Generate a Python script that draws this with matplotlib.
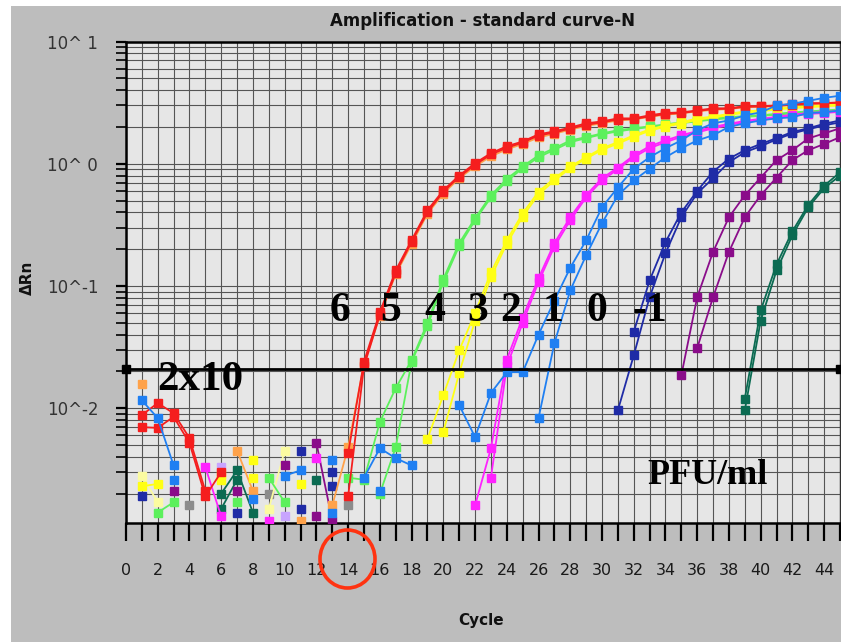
import matplotlib
matplotlib.use("Agg")
import matplotlib.pyplot as plt
from matplotlib.patches import Ellipse, Rectangle
from matplotlib.ticker import FixedLocator, FuncFormatter, LogLocator, NullFormatter

nan = float("nan")

# ---------------- data (ΔRn per cycle 1..45; nan = not plotted) ----------------
cycles = list(range(1, 46))

red_a = [0.0088, 0.011, 0.0091, 0.0057, 0.0021] + [nan] * 8 + [0.0043,
         0.024, 0.061, 0.134, 0.237, 0.416, 0.606, 0.80, 1.01, 1.22, 1.39, 1.52, 1.74, 1.84, 1.98, 2.14, 2.22,
         2.35, 2.35, 2.49, 2.60, 2.63, 2.73, 2.84, 2.84, 2.96, 2.96, 3.00, 3.07, 3.13, 3.13, 3.18]
red_b = [0.0070, 0.0069, 0.0085, 0.0052, 0.0019, 0.0030] + [nan] * 7 + [0.0019,
         0.022, 0.058, 0.128, 0.230, 0.40, 0.59, 0.78, 0.98, 1.19, 1.35, 1.49, 1.70, 1.80, 1.94, 2.08, 2.18,
         2.30, 2.32, 2.44, 2.55, 2.60, 2.70, 2.80, 2.82, 2.92, 2.94, 2.98, 3.04, 3.10, 3.12, 3.16]
orange = [0.0159, nan, nan, nan, nan, nan, 0.0045, 0.0021, nan, nan, 0.0012, nan, 0.0016, 0.0048,
          0.023, 0.057, 0.125, 0.22, 0.39, 0.57, 0.76, 0.95, 1.15, 1.31, 1.45, 1.64, 1.76, 1.90, 2.04, 2.14,
          2.26, 2.30, 2.42, 2.52, 2.58, 2.68, 2.76, 2.80, 2.90, 2.92, 2.96, 3.02, 3.06, 3.10, 3.14]
green_a = [nan, 0.0014, 0.0017, nan, nan, nan, 0.0017, nan, 0.0027, 0.0017, nan, nan, nan, 0.0027,
           0.0026, 0.0077, 0.0146, 0.0247, 0.050, 0.114, 0.224, 0.358, 0.552, 0.75, 0.95, 1.17, 1.34, 1.55,
           1.65, 1.77, 1.88, 1.95, 2.02, 2.10, 2.18, 2.26, 2.35, 2.40, 2.45, 2.49, 2.56, 2.63, 2.68, 2.73, 2.78]
green_b = [nan] * 15 + [0.0020, 0.0048, 0.0240, 0.047, 0.108, 0.212, 0.345, 0.53, 0.72, 0.92, 1.13, 1.30,
           1.50, 1.62, 1.74, 1.84, 1.92, 2.00, 2.07, 2.15, 2.22, 2.30, 2.36, 2.42, 2.46, 2.52, 2.58, 2.64,
           2.69, 2.74]
yellow_a = [0.0023, 0.0024, nan, nan, nan, 0.0026, nan, 0.0038, nan, nan, 0.0024, nan, nan, nan] + [nan] * 4 + [
            0.0056, 0.0128, 0.0297, 0.060, 0.129, 0.236, 0.393, 0.59, 0.76, 0.95, 1.13, 1.34, 1.50, 1.71,
            1.91, 2.06, 2.18, 2.35, 2.43, 2.56, 2.68, 2.73, 2.84, 2.90, 2.95, 3.00, 3.05]
yellow_b = [nan] * 5 + [0.0029, nan, 0.0027] + [nan] * 11 + [
            0.0064, 0.0194, 0.052, 0.118, 0.222, 0.37, 0.56, 0.73, 0.92, 1.10, 1.30, 1.46, 1.66, 1.86,
            2.01, 2.13, 2.29, 2.38, 2.50, 2.62, 2.68, 2.78, 2.85, 2.90, 2.95, 3.00]
magenta_a = [nan, nan, nan, nan, 0.0033, 0.0013, nan, nan, 0.0012, nan, nan, 0.0039, nan, nan] + [nan] * 7 + [
             0.0016, 0.0047, 0.025, 0.055, 0.116, 0.224, 0.365, 0.552, 0.76, 0.93, 1.17, 1.39, 1.55, 1.71,
             1.85, 2.00, 2.12, 2.24, 2.33, 2.42, 2.52, 2.60, 2.65, 2.70]
magenta_b = [nan] * 22 + [0.0027, 0.022, 0.050, 0.108, 0.21, 0.345, 0.53, 0.73, 0.90, 1.13, 1.34, 1.50,
             1.66, 1.80, 1.95, 2.07, 2.19, 2.28, 2.37, 2.47, 2.55, 2.60, 2.66]
blue_a = [0.0116, 0.0083, 0.0034, nan, nan, nan, nan, 0.0018, nan, 0.0028, 0.0031, nan, 0.0038, nan,
          0.0027, 0.0047, 0.0039, 0.0034, nan, nan,
          0.0106, 0.0058, 0.0133, 0.0197, 0.0197, 0.040, 0.076, 0.141, 0.236, 0.44, 0.64, 0.91, 1.13, 1.34,
          1.55, 1.88, 2.14, 2.26, 2.49, 2.63, 3.00, 3.10, 3.27, 3.46, 3.60]
blue_b = [nan, nan, 0.0026] + [nan] * 9 + [0.0014, nan, nan, 0.0021] + [nan] * 9 + [
          0.0083, 0.034, 0.092, 0.178, 0.326, 0.552, 0.73, 0.91, 1.13, 1.34, 1.55, 1.71, 2.00, 2.14, 2.26,
          2.35, 2.40, 2.60, 2.63, 2.73]
navy_a = [0.0019] + [nan] * 5 + [0.0014] + [nan] * 3 + [0.0045, nan, 0.0030] + [nan] * 17 + [
          0.0096, 0.027, 0.081, 0.185, 0.365, 0.573, 0.76, 1.03, 1.24, 1.39, 1.58, 1.77, 1.91, 2.06, 2.18]
navy_b = [nan] * 10 + [0.0015, nan, 0.0023] + [nan] * 18 + [
          0.042, 0.111, 0.228, 0.40, 0.60, 0.86, 1.10, 1.29, 1.45, 1.62, 1.82, 1.95, 2.12, 2.26]
purple_a = [nan, nan, 0.0021, nan, nan, nan, 0.0021, nan, nan, 0.0034, nan, 0.0052, 0.0012] + [nan] * 21 + [
            0.0186, 0.081, 0.19, 0.365, 0.552, 0.77, 1.07, 1.29, 1.61, 1.77, 1.95]
purple_b = [nan] * 11 + [0.0013] + [nan] * 23 + [
            0.031, 0.081, 0.19, 0.365, 0.552, 0.77, 1.07, 1.29, 1.45, 1.65]
teal_a = [nan] * 5 + [0.0020, 0.0031, 0.0014, nan, nan, nan, 0.0026] + [nan] * 26 + [
          0.0096, 0.052, 0.134, 0.26, 0.44, 0.63, 0.80]
teal_b = [nan] * 5 + [0.0015, 0.0026] + [nan] * 31 + [
          0.012, 0.063, 0.150, 0.28, 0.46, 0.66, 0.85]
gray_ntc = [nan, nan, nan, 0.0016, nan, nan, nan, nan, 0.0020, nan, nan, nan, nan, 0.0016] + [nan] * 31
lightyellow = [0.0028, 0.0017] + [nan] * 6 + [0.0015, 0.0045] + [nan] * 35
lavender = [nan] * 5 + [0.0033, nan, nan, nan, 0.0013] + [nan] * 35

threshold = 0.0209

y_ticks = [0.01, 0.1, 1, 10]
y_tick_labels = ["10^-2", "10^-1", "10^ 0", "10^ 1"]
x_tick_labels_every = 2

conc_labels = ["6", "5", "4", "3", "2", "1", "0", "-1"]
conc_label_x = [340, 391, 435, 478, 511, 553, 597, 650]   # pixel positions
# -------------------------------------------------------------------------------

C_RED, C_ORANGE, C_GREEN, C_YELLOW = "#f51e1e", "#ffa24a", "#5cf05c", "#ffff14"
C_MAG, C_BLUE, C_NAVY, C_PURPLE = "#ff22ff", "#1f7ff2", "#1f2ba6", "#8a0c8a"
C_TEAL, C_GRAY, C_LY, C_LAV = "#0b6b52", "#8c8c8c", "#fbfba0", "#c8a4ff"

series = [
    (gray_ntc, C_GRAY), (lightyellow, C_LY), (lavender, C_LAV),
    (teal_b, C_TEAL), (teal_a, C_TEAL), (purple_b, C_PURPLE), (purple_a, C_PURPLE),
    (navy_b, C_NAVY), (navy_a, C_NAVY),
    (orange, C_ORANGE), (green_b, C_GREEN), (green_a, C_GREEN),
    (yellow_b, C_YELLOW), (yellow_a, C_YELLOW), (magenta_b, C_MAG), (magenta_a, C_MAG),
    (red_b, C_RED), (red_a, C_RED), (blue_b, C_BLUE), (blue_a, C_BLUE),
]

W, H = 841, 642
fig = plt.figure(figsize=(W / 100, H / 100), dpi=100, facecolor="white")
fig.patches.append(Rectangle((11 / W, 0), 1 - 11 / W, 1 - 6 / H, transform=fig.transFigure,
                             facecolor="#bdbdbd", edgecolor="none", zorder=-10))

L, R, T, B = 126, 840, 41.5, 523
ax = fig.add_axes([L / W, 1 - B / H, (R - L) / W, (B - T) / H])
ax.set_zorder(1)
ax.set_facecolor("#e6e6e6")
ax.set_yscale("log")
ax.set_xlim(0, 45)
ax.set_ylim(0.00115, 10)

# grid
ax.xaxis.set_major_locator(FixedLocator(list(range(0, 46))))
ax.xaxis.set_major_formatter(FuncFormatter(
    lambda v, p: str(int(v)) if int(v) % x_tick_labels_every == 0 and v < 45 else ""))
ax.yaxis.set_major_locator(FixedLocator(y_ticks))
ax.yaxis.set_major_formatter(FuncFormatter(lambda v, p: y_tick_labels[y_ticks.index(v)] if v in y_ticks else ""))
ax.yaxis.set_minor_locator(LogLocator(base=10, subs=range(2, 10)))
ax.yaxis.set_minor_formatter(NullFormatter())
ax.grid(True, which="both", axis="y", color="#555555", lw=0.8)
ax.grid(True, which="major", axis="x", color="#555555", lw=0.8)
ax.set_axisbelow(True)

ax.tick_params(axis="x", which="major", direction="out", length=13, width=1.6, color="black",
               pad=16, labelsize=11.5, labelcolor="#1a1a1a")
ax.tick_params(axis="y", which="major", direction="out", length=7, width=1.6, color="black",
               pad=13, labelsize=12, labelcolor="#333333")
ax.tick_params(axis="y", which="minor", direction="out", length=7, width=1.2, color="black")

for s in ["left", "bottom", "top"]:
    ax.spines[s].set_color("black")
    ax.spines[s].set_linewidth(1.8)
ax.spines["right"].set_color("#333333")
ax.spines["right"].set_linewidth(1.0)

for vals, col in series:
    ax.plot(cycles, vals, color=col, lw=1.3, marker="s", ms=5.8, mec=col, mfc=col, zorder=3)

# threshold
ax.plot([0, 45], [threshold, threshold], color="black", lw=2.0, zorder=4)
ax.plot([0, 45], [threshold, threshold], ls="none", marker="s", ms=6, color="black",
        clip_on=False, zorder=5)

# texts
def px(x, y):
    return x / W, 1 - y / H

fig.text(*px(483, 21), "Amplification - standard curve-N", ha="center", va="center",
         fontsize=12, fontweight="bold", color="#111111")
fig.text(*px(27, 278), "ΔRn", ha="center", va="center", rotation=90,
         fontsize=11, fontweight="bold", color="#111111")
fig.text(*px(481, 620), "Cycle", ha="center", va="center",
         fontsize=11, fontweight="bold", color="#111111")

serif = dict(family="Liberation Serif", fontweight="bold", color="black", va="center", zorder=10)
for lab, xp in zip(conc_labels, conc_label_x):
    fig.text(*px(xp, 311), lab, ha="center", fontsize=30, **serif)
fig.text(*px(157, 380), "2x10", ha="left", fontsize=31, **serif)
fig.text(*px(708, 475), "PFU/ml", ha="center", fontsize=26, **serif)

fig.patches.append(Ellipse(px(347.5, 559), 55 / W, 58 / H, transform=fig.transFigure,
                           fill=False, edgecolor="#ff3311", lw=2.6, zorder=10))

fig.savefig("out.png", dpi=100, facecolor=fig.get_facecolor())
